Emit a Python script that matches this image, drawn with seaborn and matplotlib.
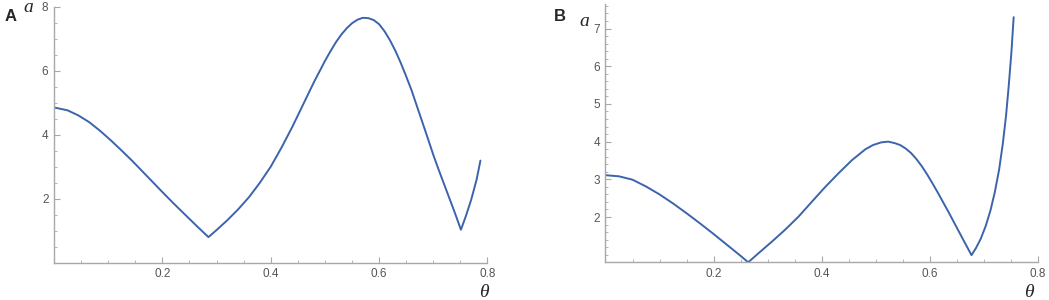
import numpy as np
import pandas as pd
import matplotlib
matplotlib.use("Agg")
import matplotlib.pyplot as plt
import seaborn as sns
from matplotlib.ticker import MultipleLocator

# panel A
theta_a = [0.0, 0.025, 0.045, 0.065, 0.085, 0.105, 0.125, 0.145, 0.165, 0.185, 0.205, 0.225,
           0.245, 0.265, 0.285,
           0.30, 0.32, 0.34, 0.36, 0.38, 0.40, 0.42, 0.44, 0.46, 0.48, 0.50, 0.51, 0.52,
           0.53, 0.54, 0.55, 0.56, 0.57, 0.58,
           0.59, 0.60, 0.61, 0.62, 0.63, 0.64, 0.65, 0.66, 0.67, 0.68, 0.69, 0.70, 0.71,
           0.72, 0.73, 0.74, 0.751,
           0.76, 0.77, 0.78, 0.787]
a_a = [4.85, 4.76, 4.6, 4.39, 4.12, 3.82, 3.5, 3.17, 2.82, 2.47, 2.12, 1.78,
       1.45, 1.12, 0.8,
       1.02, 1.33, 1.67, 2.05, 2.5, 3.0, 3.6, 4.25, 4.95, 5.65, 6.3, 6.6, 6.88,
       7.12, 7.32, 7.48, 7.59, 7.65, 7.64,
       7.58, 7.45, 7.23, 6.95, 6.62, 6.24, 5.82, 5.38, 4.88, 4.38, 3.88, 3.37, 2.9,
       2.45, 2.0, 1.55, 1.03,
       1.45, 1.97, 2.6, 3.19]

# panel B
theta_b = [0.0, 0.025, 0.05, 0.075, 0.1, 0.125, 0.15, 0.175, 0.2, 0.225, 0.25, 0.264,
           0.283, 0.308, 0.332, 0.357, 0.382, 0.406, 0.431, 0.456, 0.481, 0.495, 0.51,
           0.523, 0.535, 0.545, 0.555, 0.565, 0.575, 0.585, 0.595, 0.605, 0.615, 0.625,
           0.635, 0.645, 0.655, 0.665, 0.677,
           0.685, 0.694, 0.703, 0.712, 0.72, 0.728, 0.735, 0.741, 0.746, 0.751, 0.755]
a_b = [3.11, 3.08, 2.99, 2.81, 2.6, 2.36, 2.1, 1.83, 1.55, 1.26, 0.97, 0.8,
       1.04, 1.35, 1.66, 2.01, 2.41, 2.79, 3.16, 3.51, 3.8, 3.91, 3.98,
       4.0, 3.96, 3.91, 3.82, 3.7, 3.54, 3.35, 3.13, 2.89, 2.64, 2.38,
       2.12, 1.85, 1.58, 1.31, 0.99,
       1.17, 1.42, 1.75, 2.17, 2.65, 3.25, 3.95, 4.7, 5.5, 6.4, 7.3]

df_a = pd.DataFrame({"theta": theta_a, "a": a_a})
df_b = pd.DataFrame({"theta": theta_b, "a": a_b})

sns.set_style("white")
line_col = "#3c64ac"
axis_col = "#a8a8a8"
txt_col = "#555555"

fig = plt.figure(figsize=(10.49, 3.0), dpi=100)
ax1 = fig.add_axes([0.0515, 0.1243, 0.4132, 0.8537])
ax2 = fig.add_axes([0.5772, 0.1257, 0.4123, 0.861])

sns.lineplot(data=df_a, x="theta", y="a", ax=ax1, color=line_col, linewidth=1.4, sort=False)
sns.lineplot(data=df_b, x="theta", y="a", ax=ax2, color=line_col, linewidth=1.4, sort=False)

ax1.set_xlim(0, 0.8)
ax1.set_ylim(0, 8.0)
ax2.set_xlim(0, 0.8)
ax2.set_ylim(0.8, 7.65)

for ax, ymin_, yt in [(ax1, 0.5, [2, 4, 6, 8]), (ax2, 0.2, [2, 3, 4, 5, 6, 7])]:
    ax.set_xlabel("")
    ax.set_ylabel("")
    for s in ["top", "right"]:
        ax.spines[s].set_visible(False)
    for s in ["left", "bottom"]:
        ax.spines[s].set_color(axis_col)
        ax.spines[s].set_linewidth(1.0)
    ax.set_xticks([0.2, 0.4, 0.6, 0.8])
    ax.set_xticklabels(["0.2", "0.4", "0.6", "0.8"])
    ax.xaxis.set_minor_locator(MultipleLocator(0.05))
    ax.set_yticks(yt)
    ax.set_yticklabels([str(v) for v in yt])
    ax.yaxis.set_minor_locator(MultipleLocator(ymin_))
    ax.tick_params(which="major", direction="in", length=4, width=0.8, color=axis_col,
                   labelsize=8.5, labelcolor=txt_col, left=True, bottom=True, pad=4)
    ax.tick_params(which="minor", direction="in", length=2, width=0.6, color=axis_col,
                   left=True, bottom=True)
    ax.set_facecolor("white")
    for t in ax.get_xticklabels() + ax.get_yticklabels():
        t.set_fontfamily("Liberation Sans")

fig.text(0.004, 0.93, "A", fontsize=12, fontweight="bold", family="Liberation Sans")
fig.text(0.528, 0.93, "B", fontsize=12, fontweight="bold", family="Liberation Sans")
fig.text(0.022, 0.96, "a", fontsize=14, style="italic", family="Liberation Serif")
fig.text(0.552, 0.915, "a", fontsize=14, style="italic", family="Liberation Serif")
fig.text(0.457, 0.01, "θ", fontsize=14, style="italic", family="Liberation Serif")
fig.text(0.976, 0.01, "θ", fontsize=14, style="italic", family="Liberation Serif")

fig.savefig("out.png", dpi=100, facecolor="white")
